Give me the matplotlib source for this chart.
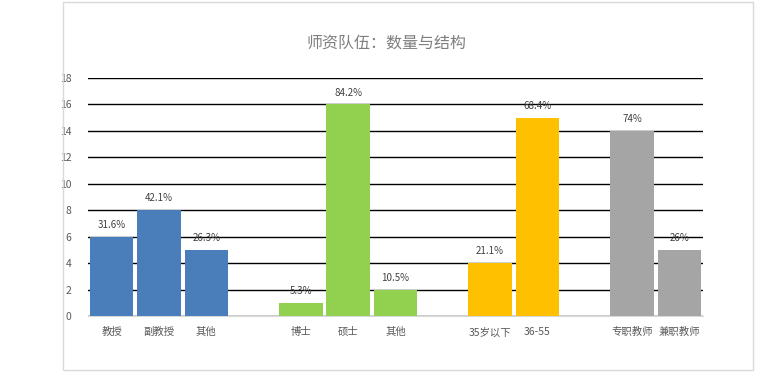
import matplotlib.pyplot as plt
from matplotlib.patches import Rectangle

plt.rcParams['font.family'] = ['Noto Sans CJK SC', 'DejaVu Sans']

# Data
categories = ["教授", "副教授", "其他", "博士", "硕士", "其他", "35岁以下", "36-55", "专职教师", "兼职教师"]
counts = [6, 8, 5, 1, 16, 2, 4, 15, 14, 5]
percent_labels = ["31.6%", "42.1%", "26.3%", "5.3%", "84.2%", "10.5%", "21.1%", "68.4%", "74%", "26%"]
groups = [0, 0, 0, 1, 1, 1, 2, 2, 3, 3]
group_colors = ["#4A7EBB", "#92D050", "#FFC000", "#A5A5A5"]

# slot positions: one empty slot between groups
positions = []
slot = 0
prev = groups[0]
for g in groups:
    if g != prev:
        slot += 1
        prev = g
    positions.append(slot)
    slot += 1

fig = plt.figure(figsize=(7.74, 3.8), dpi=100)
fig.patches.append(Rectangle((63 / 774, 1 - 370 / 380), 690 / 774, 368 / 380,
                             transform=fig.transFigure, fill=False,
                             edgecolor="#d9d9d9", linewidth=1))
ax = fig.add_axes([88 / 774, 1 - 316 / 380, 615 / 774, 238 / 380])

bars = ax.bar(positions, counts, width=0.92,
              color=[group_colors[g] for g in groups], zorder=3)

for b, lab in zip(bars, percent_labels):
    ax.annotate(lab, (b.get_x() + b.get_width() / 2, b.get_height()),
                xytext=(0, 5), textcoords="offset points", ha="center", va="bottom",
                fontsize=7, color="#404040", zorder=4)

ax.set_xlim(-0.5, 12.5)
ax.set_ylim(0, 18)
ax.set_yticks(range(0, 19, 2))
ax.set_xticks(positions)
ax.set_xticklabels(categories)
ax.tick_params(axis="both", length=0, labelsize=7.5, colors="#595959")
ax.tick_params(axis="x", pad=8)
ax.tick_params(axis="y", pad=12)

ax.grid(axis="y", color="#000000", linewidth=1.0, zorder=1)
for s in ["top", "right", "left"]:
    ax.spines[s].set_visible(False)
ax.spines["bottom"].set_color("#d9d9d9")

fig.text(0.5, 1 - 43 / 380, "师资队伍：数量与结构", ha="center", va="center",
         fontsize=11.5, color="#7f7f7f")

fig.savefig("out.png", dpi=100, facecolor="white")
